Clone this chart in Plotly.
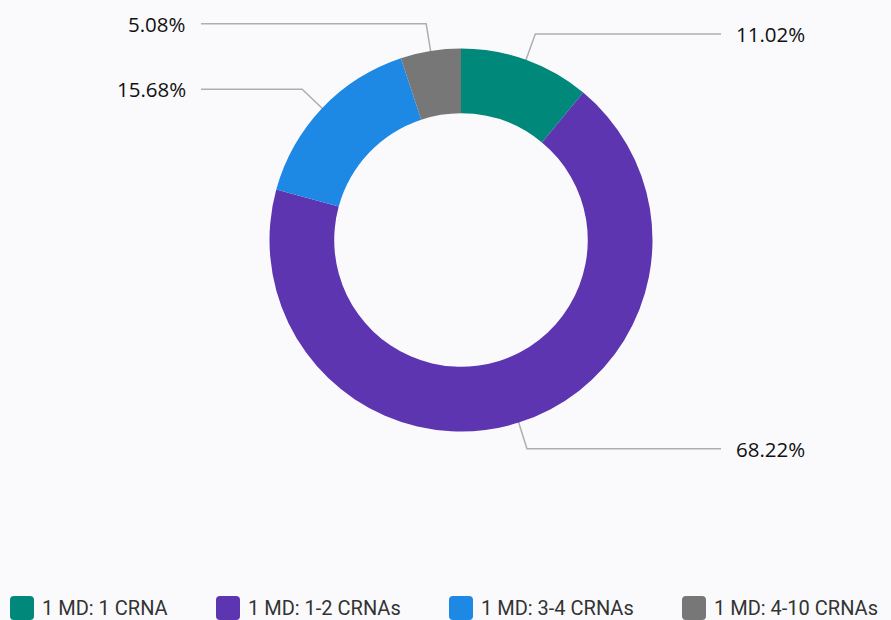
import numpy as np
import plotly.graph_objs as go

labels = ["1 MD: 1 CRNA", "1 MD: 1-2 CRNAs", "1 MD: 3-4 CRNAs", "1 MD: 4-10 CRNAs"]
values = [11.02, 68.22, 15.68, 5.08]
colors = ["#00897B", "#5E35B1", "#1E88E5", "#777777"]

W, H = 891, 620
cx, cy, r_out = 461, 240, 191.5  # donut centre / radius in pixels

fig = go.Figure()

fig.add_trace(go.Pie(
    labels=labels,
    values=values,
    marker=dict(colors=colors, line=dict(width=0)),
    hole=0.662,
    sort=False,
    direction="clockwise",
    rotation=0,
    textinfo="none",
    hoverinfo="label+percent",
    showlegend=False,
    domain=dict(x=[(cx - r_out) / W, (cx + r_out) / W],
                y=[(H - cy - r_out) / H, (H - cy + r_out) / H]),
))

# Leader lines with elbows, positions derived from slice mid-angles
fracs = np.array(values) / np.sum(values)
mids = np.cumsum(fracs) - fracs / 2
annotations = []
for frac_mid, val in zip(mids, values):
    th = frac_mid * 2 * np.pi
    s, c = np.sin(th), np.cos(th)
    x1, y1 = cx + 160 * s, cy - 160 * c
    x2, y2 = cx + 219 * s, cy - 219 * c
    side = 1 if s >= 0 else -1
    x3 = cx + side * 260
    fig.add_trace(go.Scatter(
        x=[x1, x2, x3], y=[y1, y2, y2],
        mode="lines",
        line=dict(color="rgba(0,0,0,0.3)", width=1.5),
        hoverinfo="skip",
        showlegend=False,
    ))
    annotations.append(dict(
        x=x3 + side * 13, y=y2, xref="x", yref="y",
        text=f"{val:.2f}%", showarrow=False,
        xanchor="left" if side > 0 else "right", yanchor="middle",
        font=dict(size=20.5, color="#111111", family="Open Sans"),
    ))

# Legend drawn by hand: big rounded swatches at the bottom
def rounded_square(x0, y0, size, rad):
    x1, y1 = x0 + size, y0 + size
    return (f"M{x0+rad},{y0} L{x1-rad},{y0} Q{x1},{y0} {x1},{y0+rad} "
            f"L{x1},{y1-rad} Q{x1},{y1} {x1-rad},{y1} L{x0+rad},{y1} "
            f"Q{x0},{y1} {x0},{y1-rad} L{x0},{y0+rad} Q{x0},{y0} {x0+rad},{y0} Z")

legend_x = [10, 216, 449, 682]
shapes = []
for lx, lab, col in zip(legend_x, labels, colors):
    shapes.append(dict(type="path", xref="x", yref="y",
                       path=rounded_square(lx, 596, 24, 4),
                       fillcolor=col, line=dict(width=0)))
    annotations.append(dict(
        x=lx + 30, y=608, xref="x", yref="y",
        text=lab, showarrow=False, xanchor="left", yanchor="middle",
        font=dict(size=20, color="#333333", family="Roboto"),
    ))

fig.update_layout(
    width=W, height=H,
    margin=dict(l=0, r=0, t=0, b=0),
    paper_bgcolor="#FAFAFD",
    plot_bgcolor="rgba(0,0,0,0)",
    xaxis=dict(range=[0, W], visible=False, fixedrange=True),
    yaxis=dict(range=[H, 0], visible=False, fixedrange=True),
    annotations=annotations,
    shapes=shapes,
    showlegend=False,
)

fig.write_html("out.html", config={"displayModeBar": False},
               post_script="document.body.style.margin='0';")
